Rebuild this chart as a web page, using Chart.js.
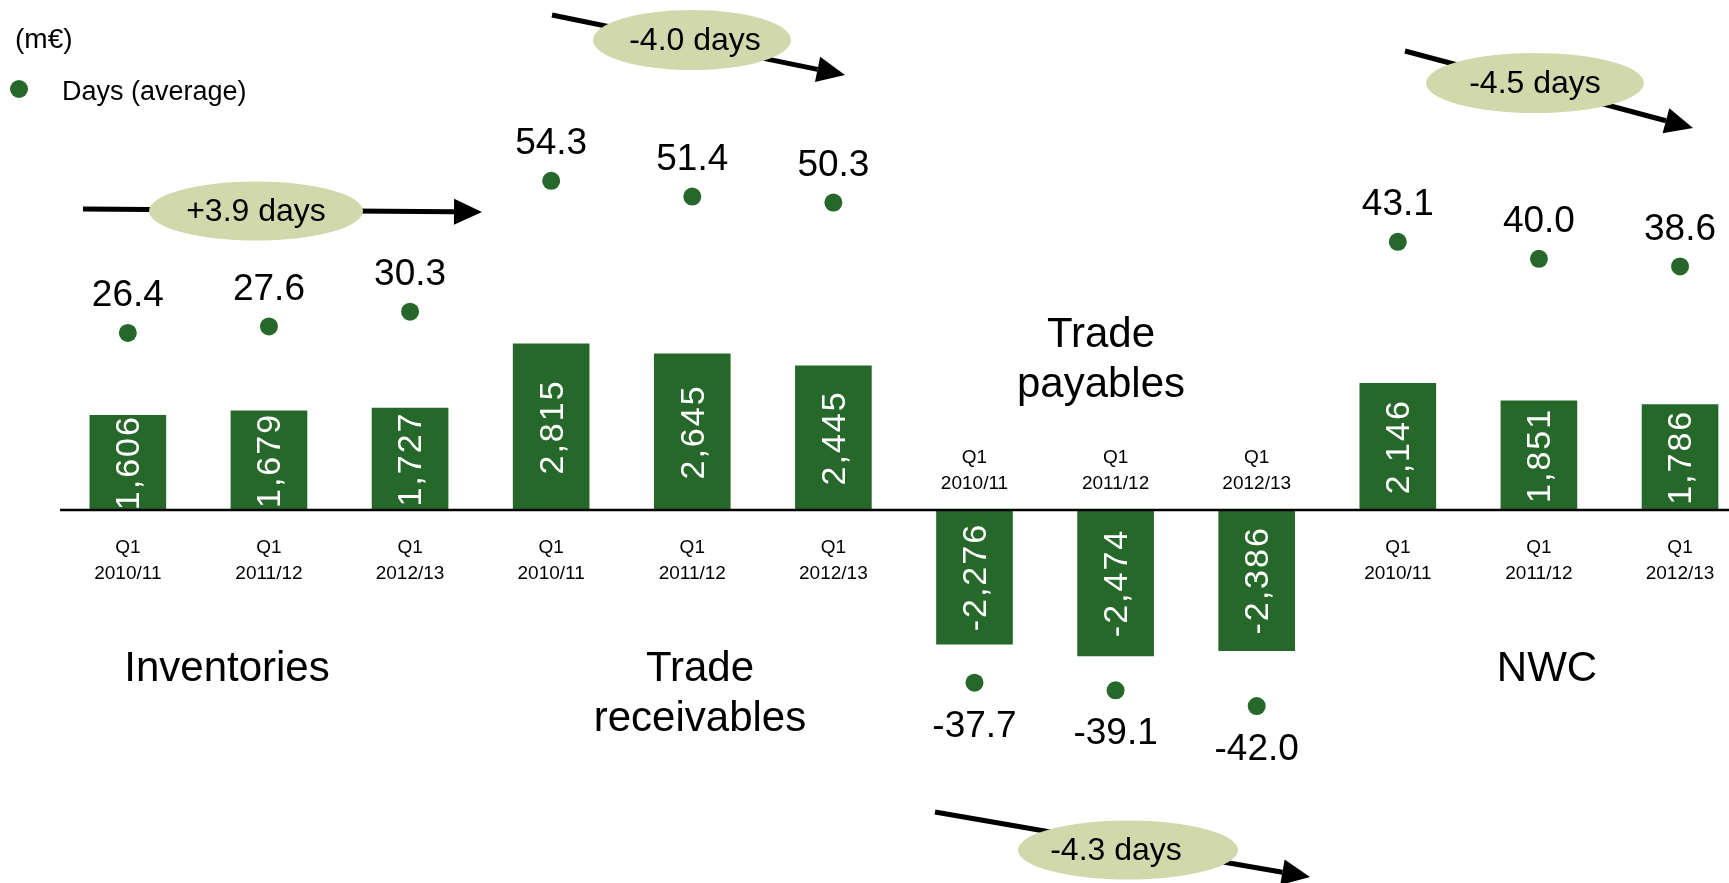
<!DOCTYPE html>
<html>
<head>
<meta charset="utf-8">
<title>Net working capital</title>
<script src="https://cdn.jsdelivr.net/npm/chart.js@4.4.1/dist/chart.umd.min.js"></script>
<style>
  html, body { margin: 0; padding: 0; background: #fff; }
  #wrap { width: 1729px; height: 883px; position: relative; }
</style>
</head>
<body>
<div id="wrap"><canvas id="nwc-chart"></canvas></div>
<script>
// ===== data =====
var groups = ['Inventories', 'Trade receivables', 'Trade payables', 'NWC'];
var quarter = 'Q1';
var periods = ['2010/11', '2011/12', '2012/13'];
var amounts = [1606, 1679, 1727, 2815, 2645, 2445, -2276, -2474, -2386, 2146, 1851, 1786];
var days = [26.4, 27.6, 30.3, 54.3, 51.4, 50.3, -37.7, -39.1, -42.0, 43.1, 40.0, 38.6];
var dayChanges = ['+3.9 days', '-4.0 days', '-4.3 days', '-4.5 days'];

var GREEN = '#26682a';
var PILL = '#d1d8ac';
var FONT = "'Liberation Sans', Arial, Helvetica, sans-serif";

// annotation layout (px)
var titlePos = [[227, 681], [700, 681], [1101, 347], [1547, 681]];
var arrows = [
  { from: [83, 209], to: [482, 212], cx: 256, cy: 211, rx: 107, ry: 29.5, dx: 0 },
  { from: [552, 15], to: [845, 75], cx: 692, cy: 40, rx: 99, ry: 30, dx: 3 },
  { from: [935, 812], to: [1310, 877], cx: 1128, cy: 850, rx: 110, ry: 29.5, dx: -12 },
  { from: [1405, 51], to: [1693, 128], cx: 1535, cy: 83, rx: 109, ry: 30, dx: 0 }
];

function drawArrow(ctx, a) {
  var x1 = a.from[0], y1 = a.from[1], x2 = a.to[0], y2 = a.to[1];
  var ang = Math.atan2(y2 - y1, x2 - x1);
  var len = 28, hw = 13;
  var bx = x2 - len * Math.cos(ang), by = y2 - len * Math.sin(ang);
  ctx.strokeStyle = '#000';
  ctx.fillStyle = '#000';
  ctx.lineWidth = 5;
  ctx.beginPath(); ctx.moveTo(x1, y1); ctx.lineTo(bx, by); ctx.stroke();
  ctx.beginPath();
  ctx.moveTo(x2, y2);
  ctx.lineTo(bx + hw * Math.sin(ang), by - hw * Math.cos(ang));
  ctx.lineTo(bx - hw * Math.sin(ang), by + hw * Math.cos(ang));
  ctx.closePath(); ctx.fill();
}

var decorPlugin = {
  id: 'decor',
  afterDatasetsDraw: function(chart) {
    var ctx = chart.ctx;
    var xs = chart.scales.x, ys = chart.scales.y;
    var bars = chart.getDatasetMeta(0).data;
    var dots = chart.getDatasetMeta(1).data;
    var base = ys.getPixelForValue(0);
    ctx.save();

    // zero line
    ctx.strokeStyle = '#000';
    ctx.lineWidth = 2.5;
    ctx.beginPath();
    ctx.moveTo(xs.getPixelForValue(-0.48), base);
    ctx.lineTo(chart.width, base);
    ctx.stroke();

    // values inside bars (rotated)
    ctx.fillStyle = '#fff';
    ctx.font = '34px ' + FONT;
    ctx.textAlign = 'center';
    ctx.textBaseline = 'middle';
    if ('letterSpacing' in ctx) ctx.letterSpacing = '2px';
    bars.forEach(function(b, i) {
      ctx.save();
      ctx.translate(b.x + 2, (b.y + b.base) / 2);
      ctx.rotate(-Math.PI / 2);
      ctx.fillText(amounts[i].toLocaleString('en-US'), 0, 0);
      ctx.restore();
    });
    if ('letterSpacing' in ctx) ctx.letterSpacing = '0px';

    // days labels
    ctx.fillStyle = '#000';
    ctx.font = '37px ' + FONT;
    dots.forEach(function(p, i) {
      var y = days[i] >= 0 ? p.y - 37 : p.y + 44;
      ctx.fillText(days[i].toFixed(1), p.x, y);
    });

    // period labels
    ctx.font = '19px ' + FONT;
    bars.forEach(function(b, i) {
      var y1 = amounts[i] < 0 ? base - 52 : base + 38;
      ctx.fillText(quarter, b.x, y1);
      ctx.fillText(periods[i % 3], b.x, y1 + 26);
    });

    // group titles
    ctx.font = '42px ' + FONT;
    ctx.textBaseline = 'alphabetic';
    groups.forEach(function(g, k) {
      var words = g.split(' ');
      var pos = titlePos[k];
      if (words.length > 1) {
        ctx.fillText(words[0], pos[0], pos[1]);
        ctx.fillText(words.slice(1).join(' '), pos[0], pos[1] + 50);
      } else {
        ctx.fillText(g, pos[0], pos[1]);
      }
    });

    // change arrows
    ctx.font = '32px ' + FONT;
    ctx.textBaseline = 'middle';
    arrows.forEach(function(a, k) {
      drawArrow(ctx, a);
      ctx.fillStyle = PILL;
      ctx.beginPath();
      ctx.ellipse(a.cx, a.cy, a.rx, a.ry, 0, 0, Math.PI * 2);
      ctx.fill();
      ctx.fillStyle = '#000';
      ctx.fillText(dayChanges[k], a.cx + a.dx, a.cy + 1);
    });

    // legend
    ctx.textAlign = 'left';
    ctx.font = '28px ' + FONT;
    ctx.fillText('(m\u20ac)', 15, 40);
    ctx.fillStyle = GREEN;
    ctx.beginPath();
    ctx.arc(19, 89, 9, 0, Math.PI * 2);
    ctx.fill();
    ctx.fillStyle = '#000';
    ctx.font = '27px ' + FONT;
    ctx.fillText('Days (average)', 62, 93);

    ctx.restore();
  }
};

new Chart(document.getElementById('nwc-chart'), {
  type: 'bar',
  data: {
    datasets: [
      {
        type: 'bar',
        label: 'm\u20ac',
        data: amounts.map(function(v, i) { return { x: i, y: v }; }),
        backgroundColor: GREEN,
        borderWidth: 0,
        barThickness: 76,
        yAxisID: 'y'
      },
      {
        type: 'line',
        label: 'Days (average)',
        data: days.map(function(v, i) { return { x: i, y: v }; }),
        showLine: false,
        pointRadius: 9,
        pointHoverRadius: 9,
        pointBorderWidth: 0,
        pointBackgroundColor: GREEN,
        borderColor: GREEN,
        yAxisID: 'y2'
      }
    ]
  },
  options: {
    responsive: true,
    maintainAspectRatio: false,
    animation: false,
    devicePixelRatio: 1,
    events: [],
    layout: { padding: 0, autoPadding: false },
    plugins: { legend: { display: false }, tooltip: { enabled: false } },
    scales: {
      x: { type: 'linear', offset: false, min: -0.906, max: 11.347, display: false },
      y: { min: -6322, max: 8644, display: false },
      y2: { position: 'right', min: -74.43, max: 87.44, display: false }
    }
  },
  plugins: [decorPlugin]
});
</script>
</body>
</html>
